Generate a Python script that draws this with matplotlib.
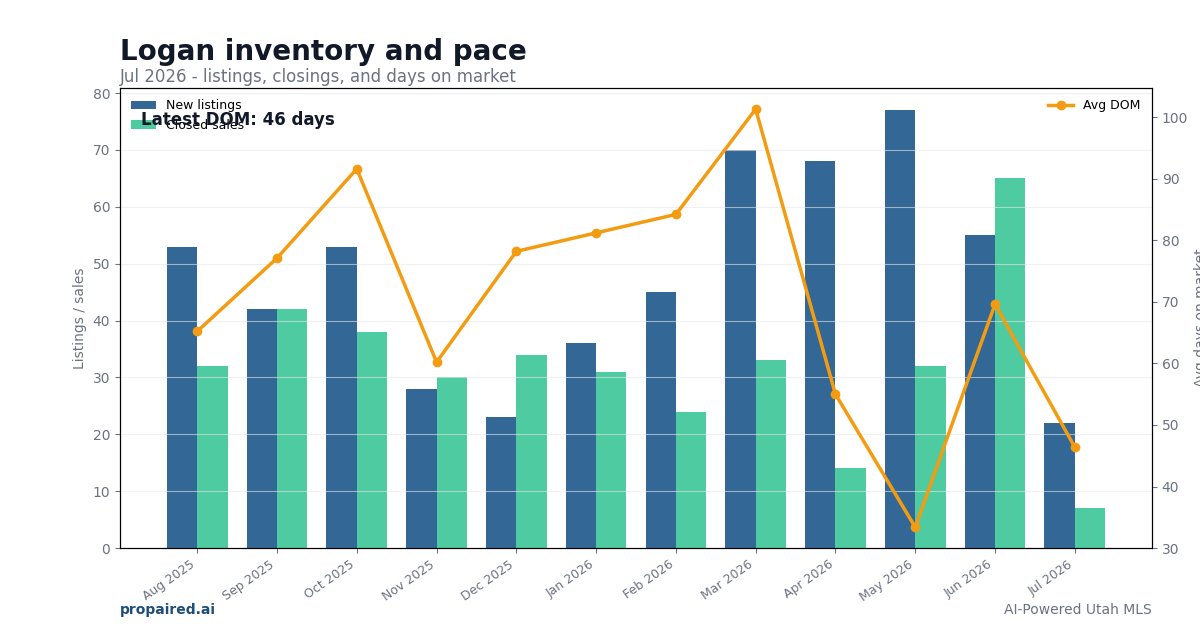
import matplotlib.pyplot as plt
import numpy as np

months = ["Aug 2025", "Sep 2025", "Oct 2025", "Nov 2025", "Dec 2025", "Jan 2026",
          "Feb 2026", "Mar 2026", "Apr 2026", "May 2026", "Jun 2026", "Jul 2026"]
new_listings = [53, 42, 53, 28, 23, 36, 45, 70, 68, 77, 55, 22]
closed_sales = [32, 42, 38, 30, 34, 31, 24, 33, 14, 32, 65, 7]
avg_dom = [65.2, 77.1, 91.6, 60.2, 78.2, 81.2, 84.2, 101.3, 55.0, 33.4, 69.6, 46.4]

gray = "#6b7280"
dark = "#111827"

fig = plt.figure(figsize=(12, 6.3), dpi=100)
ax1 = fig.add_axes([0.1, 0.13, 0.86, 0.73])

x = np.arange(len(months))
w = 0.38
ax1.bar(x - w / 2, new_listings, w, color="#336896", label="New listings")
ax1.bar(x + w / 2, closed_sales, w, color="#4ecba0", label="Closed sales")
ax1.set_ylim(0, max(new_listings) * 1.05)
ax1.set_ylabel("Listings / sales", color=gray, fontsize=10)
ax1.set_xticks(x)
ax1.set_xticklabels(months, rotation=35, ha="right", fontsize=9, color=gray)
ax1.tick_params(axis="y", colors=gray, labelsize=10)
ax1.tick_params(axis="x", colors=gray)
ax1.grid(axis="y", color="#e5e7eb", alpha=0.6, linewidth=0.8)
ax1.legend(loc="upper left", fontsize=9, frameon=False)

ax2 = ax1.twinx()
ax2.plot(x, avg_dom, color="#f39c12", linewidth=2.5, marker="o", markersize=6, label="Avg DOM")
ax2.set_ylim(30, 104.7)
ax2.set_ylabel("Avg days on market", color=gray, fontsize=10)
ax2.tick_params(axis="y", colors=gray, labelsize=10)
ax2.legend(loc="upper right", fontsize=9, frameon=False)

ax1.text(0.02, 0.93, "Latest DOM: %d days" % int(avg_dom[-1]), transform=ax1.transAxes,
         fontsize=12, fontweight="bold", color=dark, va="center", zorder=10)

fig.text(0.1, 0.918, "Logan inventory and pace", fontsize=20, fontweight="bold", color=dark, va="center")
fig.text(0.1, 0.877, "Jul 2026 - listings, closings, and days on market", fontsize=12, color=gray, va="center")
fig.text(0.1, 0.032, "propaired.ai", fontsize=10, fontweight="bold", color="#1f4e79", va="center")
fig.text(0.96, 0.032, "AI-Powered Utah MLS", fontsize=10, color=gray, va="center", ha="right")

fig.savefig("out.png", dpi=100)
